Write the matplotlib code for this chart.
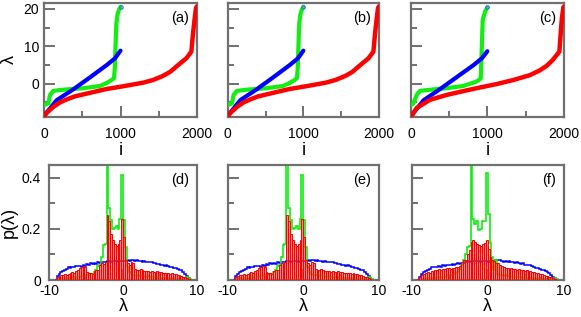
import numpy as np
import matplotlib
matplotlib.use("Agg")
import matplotlib.pyplot as plt

plt.rcParams['font.family'] = ['Liberation Sans', 'DejaVu Sans']
plt.rcParams['axes.unicode_minus'] = False

# ---------------- top row: sorted eigenvalues ----------------
red_i_ab = [0, 35, 122, 209, 297, 400, 514, 650, 820, 1000, 1124, 1300, 1425, 1556, 1650, 1730, 1800, 1861, 1926, 1948, 1970, 1987, 2000]
red_l_ab = [-8.85, -7.8, -6.2, -5.0, -4.2, -3.4, -2.85, -2.2, -1.4, -0.8, -0.35, 0.3, 1.0, 2.1, 3.2, 4.6, 5.8, 6.8, 8.6, 13.5, 17.5, 20.3, 20.7]
green_i_ab = [0, 57, 78, 122, 250, 514, 732, 819, 885, 915, 925, 935, 945, 960, 980, 1000]
green_l_ab = [-5.7, -5.25, -3.0, -1.9, -1.6, -1.2, -0.6, 0.2, 1.0, 1.5, 4.0, 10.0, 16.0, 18.5, 19.8, 20.6]
blue_i_ab = [0, 166, 383, 601, 820, 928, 1000]
blue_l_ab = [-8.6, -4.4, -1.5, 1.7, 5.0, 6.8, 8.85]

red_i_c = [0, 74, 249, 467, 700, 904, 1120, 1340, 1558, 1680, 1777, 1850, 1908, 1943, 1974, 1995, 2000]
red_l_c = [-8.85, -6.5, -4.3, -3.0, -1.9, -1.0, -0.1, 1.0, 2.3, 3.5, 4.8, 6.2, 7.7, 8.6, 17.1, 20.4, 20.6]
green_i_c = [0, 30, 74, 118, 300, 467, 685, 860, 913, 926, 939, 970, 1000]
green_l_c = [-5.7, -5.3, -3.0, -1.9, -1.5, -1.2, -0.6, 0.6, 1.4, 9.0, 17.0, 19.3, 20.4]
blue_i_c = [0, 166, 383, 601, 820, 928, 1000]
blue_l_c = [-8.6, -4.4, -1.4, 1.8, 5.0, 6.8, 8.7]

top_xticks = [0, 1000, 2000]
top_xminor = [500, 1500]
top_yticks = [0, 10, 20]
top_yminor = [-5, 5, 15]

# ---------------- bottom row: densities p(lambda) ----------------
bin_edges = np.arange(-10, 10.0001, 0.25)

red_d = [0, 0, 0, 0.004,
         0.012, 0.016, 0.020, 0.018,
         0.022, 0.020, 0.024, 0.026,
         0.030, 0.028, 0.034, 0.040,
         0.048, 0.052, 0.055, 0.050,
         0.030, 0.026, 0.028, 0.025,
         0.035, 0.040, 0.038, 0.060,
         0.065, 0.062, 0.070, 0.255,
         0.230, 0.180, 0.156, 0.140,
         0.135, 0.140, 0.156, 0.240,
         0.170, 0.078, 0.065, 0.060,
         0.072, 0.065, 0.045, 0.040,
         0.038, 0.042, 0.040, 0.036,
         0.034, 0.036, 0.032, 0.035,
         0.033, 0.031, 0.034, 0.030,
         0.032, 0.028, 0.027, 0.029,
         0.026, 0.024, 0.027, 0.025,
         0.022, 0.020, 0.019, 0.016,
         0.013, 0.010, 0.006, 0.002,
         0, 0, 0, 0]
green_d = [0, 0, 0, 0,
           0, 0.004, 0.006, 0.005,
           0.006, 0.008, 0.006, 0.007,
           0.008, 0.010, 0.009, 0.012,
           0.010, 0.014, 0.016, 0.020,
           0.018, 0.020, 0.022, 0.025,
           0.030, 0.040, 0.055, 0.060,
           0.090, 0.137, 0.140, 0.600,
           0.280, 0.235, 0.200, 0.205,
           0.210, 0.200, 0.240, 0.410,
           0.235, 0.130, 0.050, 0.030,
           0.025, 0.020, 0.018, 0.020,
           0.015, 0.018, 0.014, 0.016,
           0.012, 0.014, 0.012, 0.010,
           0.012, 0.010, 0.009, 0.011,
           0.008, 0.009, 0.007, 0.008,
           0.006, 0.007, 0.005, 0.006,
           0.005, 0.004, 0.005, 0.004,
           0.004, 0.006, 0.010, 0.008,
           0.003, 0, 0, 0]
blue_d = [0, 0, 0, 0,
          0.015, 0.025, 0.032, 0.036,
          0.040, 0.045, 0.050, 0.048,
          0.052, 0.050, 0.055, 0.053,
          0.056, 0.052, 0.058, 0.055,
          0.062, 0.060, 0.065, 0.063,
          0.066, 0.064, 0.070, 0.068,
          0.070, 0.072, 0.071, 0.073,
          0.074, 0.072, 0.073, 0.075,
          0.074, 0.072, 0.075, 0.074,
          0.076, 0.073, 0.078, 0.076,
          0.079, 0.077, 0.075, 0.078,
          0.074, 0.076, 0.072, 0.074,
          0.070, 0.072, 0.069, 0.070,
          0.066, 0.068, 0.064, 0.062,
          0.060, 0.058, 0.056, 0.057,
          0.053, 0.050, 0.052, 0.048,
          0.046, 0.044, 0.040, 0.038,
          0.032, 0.024, 0.016, 0.008,
          0, 0, 0, 0]

red_f = [0, 0, 0, 0.004,
         0.012, 0.020, 0.024, 0.026,
         0.030, 0.028, 0.034, 0.036,
         0.040, 0.038, 0.042, 0.040,
         0.045, 0.042, 0.048, 0.046,
         0.044, 0.048, 0.046, 0.050,
         0.052, 0.055, 0.070, 0.078,
         0.080, 0.100, 0.117, 0.150,
         0.156, 0.150, 0.140, 0.137,
         0.135, 0.140, 0.145, 0.156,
         0.120, 0.090, 0.078, 0.075,
         0.068, 0.065, 0.060, 0.055,
         0.050, 0.046, 0.048, 0.044,
         0.046, 0.042, 0.045, 0.040,
         0.042, 0.038, 0.040, 0.037,
         0.038, 0.035, 0.036, 0.032,
         0.030, 0.028, 0.026, 0.025,
         0.022, 0.020, 0.016, 0.014,
         0.012, 0.010, 0.006, 0.002,
         0, 0, 0, 0]
green_f = [0, 0, 0, 0,
           0, 0.004, 0.005, 0.006,
           0.006, 0.007, 0.006, 0.008,
           0.009, 0.010, 0.009, 0.012,
           0.011, 0.013, 0.015, 0.018,
           0.018, 0.021, 0.022, 0.026,
           0.030, 0.045, 0.060, 0.078,
           0.100, 0.130, 0.135, 0.600,
           0.240, 0.220, 0.230, 0.195,
           0.200, 0.230, 0.230, 0.417,
           0.260, 0.143, 0.090, 0.040,
           0.080, 0.025, 0.020, 0.018,
           0.016, 0.018, 0.014, 0.015,
           0.012, 0.013, 0.012, 0.010,
           0.011, 0.010, 0.009, 0.010,
           0.008, 0.009, 0.007, 0.008,
           0.006, 0.007, 0.005, 0.006,
           0.005, 0.004, 0.005, 0.004,
           0.004, 0.005, 0.009, 0.008,
           0.003, 0, 0, 0]
blue_f = [0, 0, 0, 0,
          0.012, 0.022, 0.030, 0.036,
          0.040, 0.044, 0.050, 0.052,
          0.052, 0.050, 0.054, 0.052,
          0.058, 0.056, 0.060, 0.058,
          0.060, 0.062, 0.058, 0.064,
          0.066, 0.064, 0.068, 0.066,
          0.070, 0.073, 0.071, 0.075,
          0.074, 0.076, 0.073, 0.075,
          0.072, 0.074, 0.075, 0.073,
          0.072, 0.074, 0.071, 0.073,
          0.078, 0.077, 0.079, 0.075,
          0.072, 0.074, 0.071, 0.073,
          0.070, 0.072, 0.068, 0.070,
          0.066, 0.064, 0.066, 0.060,
          0.059, 0.057, 0.058, 0.055,
          0.050, 0.047, 0.048, 0.045,
          0.040, 0.038, 0.034, 0.032,
          0.026, 0.020, 0.013, 0.006,
          0, 0, 0, 0]

bot_xticks = [-10, 0, 10]
bot_xminor = [-5, 5]
bot_yticks = [0, 0.2, 0.4]
bot_ytick_labels = ['0', '0.2', '0.4']
bot_yminor = [0.1, 0.3]

panel_labels = ['(a)', '(b)', '(c)', '(d)', '(e)', '(f)']

RED = '#ff0000'
GREEN = '#11ee11'
BLUE = '#0000ff'
FRAME = '#707070'

W, H = 581, 317
fig = plt.figure(figsize=(W / 100, H / 100), dpi=100)


def px_axes(x0, x1, y0, y1):
    return fig.add_axes([x0 / W, 1 - y1 / H, (x1 - x0) / W, (y1 - y0) / H])


def style(ax, xticks, xminor, yticks, yminor, xpad, ypad, show_y, ylabels=None):
    for s in ax.spines.values():
        s.set_color(FRAME)
        s.set_linewidth(1.6)
    ax.set_xticks(xticks)
    ax.set_xticks(xminor, minor=True)
    ax.set_yticks(yticks)
    ax.set_yticks(yminor, minor=True)
    ax.set_xticklabels([str(t) for t in xticks])
    if show_y:
        ax.set_yticklabels(ylabels if ylabels is not None else [str(t) for t in yticks])
    else:
        ax.set_yticklabels([])
    ax.tick_params(which='both', direction='in', color=FRAME, width=1.4, labelsize=10)
    ax.tick_params(which='major', length=8)
    ax.tick_params(which='minor', length=4.5)
    ax.tick_params(axis='x', which='major', pad=xpad)
    ax.tick_params(axis='y', which='major', pad=ypad)


top_pos = [(44, 197), (227.7, 379), (411, 563.7)]
bot_pos = [(49.3, 197), (227.7, 379), (411.7, 563.7)]
top_data = [(red_i_ab, red_l_ab, green_i_ab, green_l_ab, blue_i_ab, blue_l_ab),
            (red_i_ab, red_l_ab, green_i_ab, green_l_ab, blue_i_ab, blue_l_ab),
            (red_i_c, red_l_c, green_i_c, green_l_c, blue_i_c, blue_l_c)]
bot_data = [(red_d, green_d, blue_d), (red_d, green_d, blue_d), (red_f, green_f, blue_f)]

for k in range(3):
    ax = px_axes(top_pos[k][0], top_pos[k][1], 3, 117)
    ri, rl, gi, gl, bi, bl = top_data[k]
    ax.plot(gi, gl, color=GREEN, lw=3.0, solid_capstyle='round', zorder=3)
    ax.plot(bi, bl, color=BLUE, lw=3.0, solid_capstyle='round', zorder=4)
    ax.plot(ri, rl, color=RED, lw=3.2, solid_capstyle='round', zorder=5)
    ax.plot([gi[-1]], [gl[-1]], 'o', ms=2.5, mfc='none', mec='#4466ff', mew=0.8, zorder=6)
    ax.set_xlim(0, 2000)
    ax.set_ylim(-8.9, 21.6)
    style(ax, top_xticks, top_xminor, top_yticks, top_yminor, 7, 3.5, k == 0)
    ax.set_xlabel('i', fontsize=13, labelpad=1)
    if k == 0:
        ax.set_ylabel('λ', fontsize=13)
        ax.yaxis.set_label_coords(-0.17, 0.5)
    ax.text(0.95, 0.93, panel_labels[k], transform=ax.transAxes, ha='right', va='top', fontsize=10.5)

for k in range(3):
    ax = px_axes(bot_pos[k][0], bot_pos[k][1], 165, 280)
    rv, gv, bv = bot_data[k]
    ax.stairs(bv, bin_edges, color=BLUE, lw=1.1, zorder=2)
    ax.stairs(gv, bin_edges, color=GREEN, lw=1.2, zorder=2)
    ax.bar(bin_edges[:-1], rv, width=0.25, align='edge', facecolor=(1, 0.25, 0.25, 0.6),
           edgecolor=RED, linewidth=0.7, zorder=3)
    ax.set_xlim(-10, 10)
    ax.set_ylim(0, 0.45)
    style(ax, bot_xticks, bot_xminor, bot_yticks, bot_yminor, 3, 6, k == 0, bot_ytick_labels)
    ax.set_xlabel('λ', fontsize=13, labelpad=0)
    if k == 0:
        ax.set_ylabel('p(λ)', fontsize=13)
        ax.yaxis.set_label_coords(-0.21, 0.5)
    ax.text(0.95, 0.93, panel_labels[k + 3], transform=ax.transAxes, ha='right', va='top', fontsize=10.5)

fig.savefig('out.png', dpi=100)
